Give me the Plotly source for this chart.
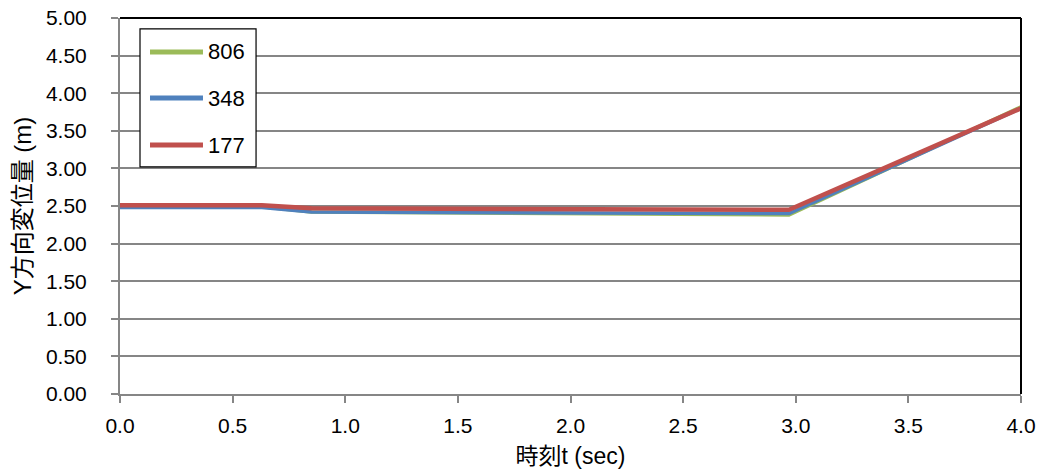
import plotly.graph_objects as go

t = [0.0, 0.63, 0.85, 2.97, 4.0]
s806 = [2.49, 2.49, 2.42, 2.38, 3.82]
s348 = [2.48, 2.48, 2.42, 2.40, 3.80]
s177 = [2.51, 2.51, 2.47, 2.45, 3.80]

names = ["806", "348", "177"]
colors = ["#9BBB59", "#4F81BD", "#C0504D"]
widths = [3.5, 3.5, 4.5]
series = [s806, s348, s177]

xtick_vals = [0, 0.5, 1, 1.5, 2, 2.5, 3, 3.5, 4]
xtick_text = ["0.0", "0.5", "1.0", "1.5", "2.0", "2.5", "3.0", "3.5", "4.0"]
ytick_vals = [0, 0.5, 1, 1.5, 2, 2.5, 3, 3.5, 4, 4.5, 5]
ytick_text = ["0.00", "0.50", "1.00", "1.50", "2.00", "2.50", "3.00", "3.50", "4.00", "4.50", "5.00"]

fig = go.Figure()
for n, c, w, s in zip(names, colors, widths, series):
    fig.add_trace(go.Scatter(x=t, y=s, mode="lines", name=n,
                             line=dict(color=c, width=w)))

font = "Liberation Sans, Noto Sans CJK JP, sans-serif"
axis_gray = "#868686"
fig.update_layout(
    width=1040, height=474,
    margin=dict(l=120, r=19, t=18, b=80, autoexpand=False),
    paper_bgcolor="white", plot_bgcolor="white",
    font=dict(family=font, size=21, color="black"),
    showlegend=False,
    xaxis=dict(range=[0, 4], tickvals=xtick_vals, ticktext=xtick_text,
               showgrid=False, zeroline=False, showline=True, linecolor=axis_gray, linewidth=2,
               ticks="outside", ticklen=7, tickcolor=axis_gray, tickwidth=2,
               ticklabelstandoff=5, ticklabeloverflow="allow",
               title=dict(text="時刻t (sec)", font=dict(size=23), standoff=12)),
    yaxis=dict(range=[0, 5], tickvals=ytick_vals, ticktext=ytick_text,
               showgrid=True, gridcolor=axis_gray, gridwidth=1.5, zeroline=False,
               showline=True, linecolor=axis_gray, linewidth=2,
               ticks="outside", ticklen=7, tickcolor=axis_gray, tickwidth=2,
               ticklabelstandoff=20, ticklabeloverflow="allow",
               title=dict(text="Y方向変位量 (m)", font=dict(size=24), standoff=8)),
)
# top/right frame
fig.add_shape(type="line", xref="x domain", yref="y domain", x0=0, x1=1, y0=1, y1=1,
              line=dict(color="black", width=2))
fig.add_shape(type="line", xref="x domain", yref="y domain", x0=1, x1=1, y0=0, y1=1,
              line=dict(color="black", width=2))

# legend box (Excel-like)
fig.add_shape(type="rect", xref="x domain", yref="y domain", x0=0.0222, x1=0.151,
              y0=0.604, y1=0.971, line=dict(color="black", width=1.2), fillcolor="white",
              layer="above")
item_y = [0.9096, 0.787, 0.662]
for n, c, yy in zip(names, colors, item_y):
    fig.add_shape(type="line", xref="x domain", yref="y domain", x0=0.0333, x1=0.0921,
                  y0=yy, y1=yy, line=dict(color=c, width=5), layer="above")
    fig.add_annotation(xref="x domain", yref="y domain", x=0.0955, y=yy, text=n,
                       showarrow=False, xanchor="left", yanchor="middle",
                       font=dict(size=22, color="black"))
fig.write_html("out.html", config={"displayModeBar": False},
               post_script="document.body.style.margin='0';")
